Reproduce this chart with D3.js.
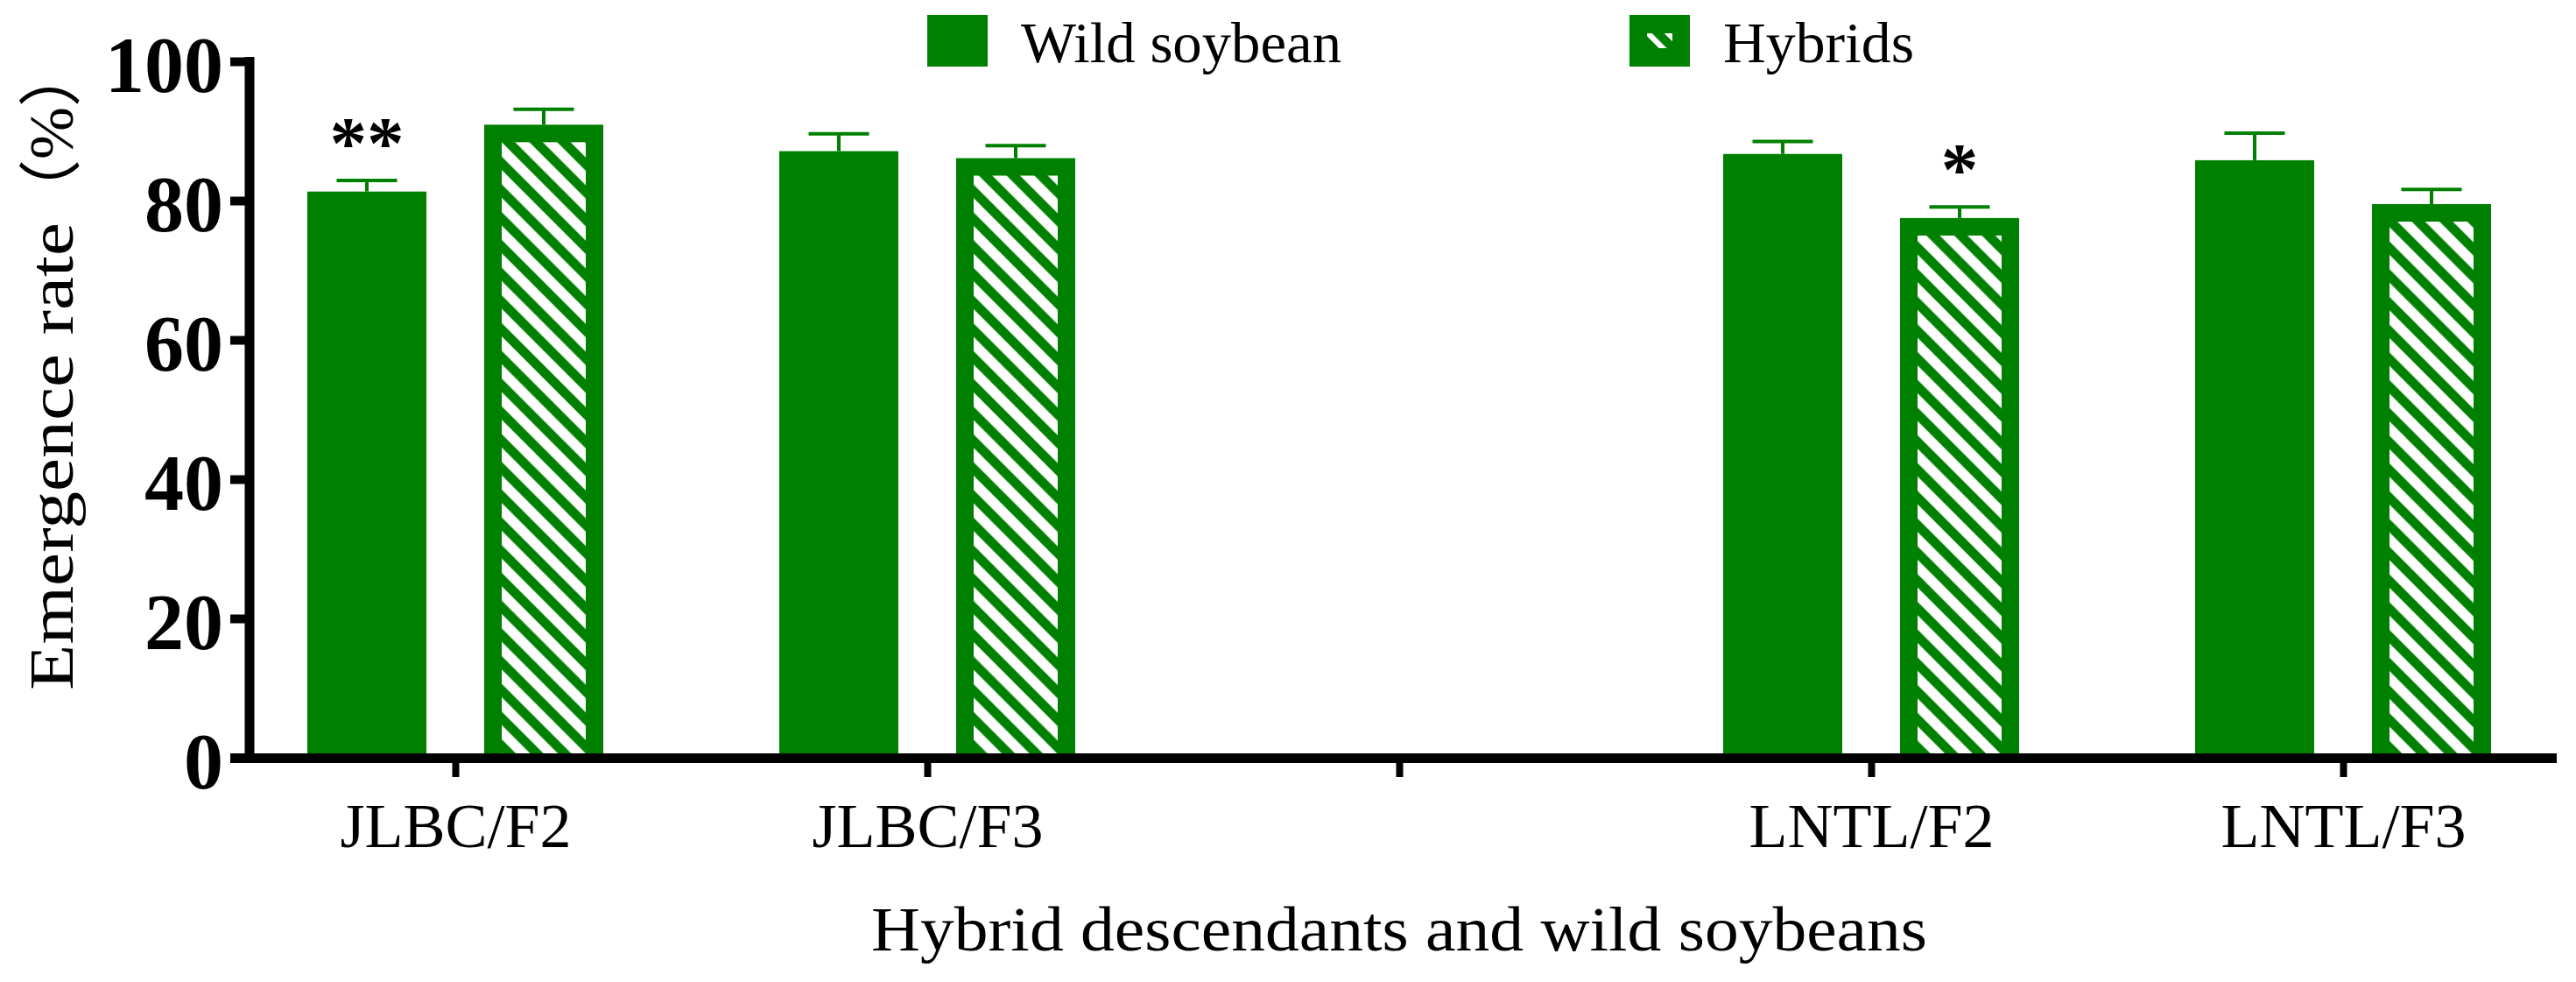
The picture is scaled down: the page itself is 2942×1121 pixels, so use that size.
<!DOCTYPE html>
<html><head><meta charset="utf-8">
<script src="https://cdn.jsdelivr.net/npm/d3@7"></script>
<style>html,body{margin:0;padding:0;background:#fff;} svg{display:block}</style>
</head><body>
<svg id="chart" width="2942" height="1121"></svg>
<script>
// ---- data ----
const categories = ["JLBC/F2", "JLBC/F3", "gap", "LNTL/F2", "LNTL/F3"];
const tickLabels = ["JLBC/F2", "JLBC/F3", "", "LNTL/F2", "LNTL/F3"];
const series = ["Wild soybean", "Hybrids"];
const wildMean = [81.3, 87.1, null, 86.7, 85.8];
const wildErr = [1.6, 2.5, null, 1.8, 3.9];
const hybridMean = [90.9, 86.1, null, 77.5, 79.5];
const hybridErr = [2.2, 1.8, null, 1.6, 2.1];
const wildSig = ["**", "", "", "", ""];
const hybridSig = ["", "", "", "*", ""];
const yTicks = [0, 20, 40, 60, 80, 100];
const yTitle = "Emergence rate";
const yTitleUnit = "（%）";
const xTitle = "Hybrid descendants and wild soybeans";

// ---- layout ----
const GREEN = "#008000";
const SERIF = "'Liberation Serif', 'Times New Roman', serif";
const svg = d3.select("#chart");
const x = d3.scalePoint().domain(categories).range([520, 2676]);
const xs = d3.scalePoint().domain(series).range([-101, 101]);
const y = d3.scaleLinear().domain([0, 100]).range([865, 70]);
const barW = 136, border = 20;

const defs = svg.append("defs");
function hatch(id, p, wy, wh) {
  const pat = defs.append("pattern").attr("id", id)
    .attr("patternUnits", "userSpaceOnUse")
    .attr("width", p).attr("height", p)
    .attr("patternTransform", "rotate(45)");
  pat.append("rect").attr("width", p).attr("height", p).attr("fill", GREEN);
  pat.append("rect").attr("y", wy).attr("width", p).attr("height", wh).attr("fill", "#fff");
}
hatch("hatch", 22.4, 0.8, 11.6);
hatch("hatchLeg", 16.26, 9.9, 7.8);

// build rows
const rows = [];
categories.forEach((c, i) => {
  if (wildMean[i] != null) rows.push({cat: c, s: series[0], m: wildMean[i], e: wildErr[i], sig: wildSig[i]});
  if (hybridMean[i] != null) rows.push({cat: c, s: series[1], m: hybridMean[i], e: hybridErr[i], sig: hybridSig[i]});
});
const cx = d => x(d.cat) + xs(d.s);

// error bars (upper only)
const eb = svg.append("g").attr("stroke", GREEN).attr("stroke-width", 4).attr("fill", "none");
eb.selectAll("line.stem").data(rows).join("line").attr("class", "stem")
  .attr("x1", cx).attr("x2", cx).attr("y1", d => y(d.m)).attr("y2", d => y(d.m + d.e));
eb.selectAll("line.cap").data(rows).join("line").attr("class", "cap")
  .attr("x1", d => cx(d) - 34.5).attr("x2", d => cx(d) + 34.5)
  .attr("y1", d => y(d.m + d.e)).attr("y2", d => y(d.m + d.e));

// bars
const bars = svg.append("g");
bars.selectAll("rect.outer").data(rows).join("rect").attr("class", "outer")
  .attr("x", d => cx(d) - barW / 2).attr("width", barW)
  .attr("y", d => y(d.m)).attr("height", d => y(0) - y(d.m))
  .attr("fill", GREEN);
bars.selectAll("rect.inner").data(rows.filter(d => d.s === series[1])).join("rect").attr("class", "inner")
  .attr("x", d => cx(d) - barW / 2 + border).attr("width", barW - 2 * border)
  .attr("y", d => y(d.m) + border).attr("height", d => y(0) - y(d.m) - border)
  .attr("fill", "url(#hatch)");

// significance stars
svg.append("g").selectAll("text").data(rows.filter(d => d.sig)).join("text")
  .attr("x", cx).attr("y", d => y(d.m + d.e) - 14)
  .attr("text-anchor", "middle").attr("font-family", SERIF).attr("font-weight", "bold")
  .attr("font-size", 85).attr("fill", "#000").text(d => d.sig);

// y axis
const yAxis = svg.append("g").attr("transform", "translate(284.5,0)")
  .call(d3.axisLeft(y).tickValues(yTicks).tickSize(21.5).tickSizeOuter(0).tickPadding(8));
yAxis.select(".domain").attr("stroke", "#000").attr("stroke-width", 11).attr("stroke-linecap", "square");
yAxis.selectAll(".tick line").attr("stroke", "#000").attr("stroke-width", 10);
yAxis.selectAll(".tick text").attr("font-family", SERIF).attr("font-weight", "bold")
  .attr("font-size", 90).attr("fill", "#000").attr("dy", 34).attr("x", -29.5);

// x axis
const xAxis = svg.append("g").attr("transform", "translate(0,865)")
  .call(d3.axisBottom(x).tickSize(22).tickSizeOuter(0).tickFormat((d, i) => tickLabels[i]));
xAxis.select(".domain").remove();
xAxis.selectAll(".tick line").attr("stroke", "#000").attr("stroke-width", 8);
xAxis.selectAll(".tick text").attr("font-family", SERIF).attr("font-size", 72)
  .attr("fill", "#000").attr("y", 102).attr("dy", 0);
svg.append("line").attr("x1", 263).attr("x2", 2920).attr("y1", 865.5).attr("y2", 865.5)
  .attr("stroke", "#000").attr("stroke-width", 11);

// axis titles
svg.append("text").attr("transform", "translate(83,788) rotate(-90)")
  .attr("font-family", SERIF).attr("font-size", 72).attr("fill", "#000")
  .attr("textLength", 534).attr("lengthAdjust", "spacingAndGlyphs").text(yTitle);
svg.append("text").attr("transform", "translate(83,254) rotate(-90)")
  .attr("font-family", SERIF + ", 'Noto Sans CJK SC'").attr("font-size", 72).attr("fill", "#000")
  .text(yTitleUnit);
svg.append("text").attr("x", 1598).attr("y", 1085).attr("text-anchor", "middle")
  .attr("font-family", SERIF).attr("font-size", 71).attr("fill", "#000")
  .attr("textLength", 1206).attr("lengthAdjust", "spacingAndGlyphs").text(xTitle);

// legend
const legX = [1059, 1861];
const legTextX = [1166, 1968];
const legTextLen = [366, 218];
const leg = svg.append("g");
series.forEach((s, i) => {
  leg.append("rect").attr("x", legX[i]).attr("y", 17).attr("width", 69).attr("height", 59).attr("fill", GREEN);
  if (i === 1) leg.append("rect").attr("x", legX[i] + 20).attr("y", 38).attr("width", 29).attr("height", 17)
    .attr("fill", "url(#hatchLeg)");
  leg.append("text").attr("x", legTextX[i]).attr("y", 71)
    .attr("font-family", SERIF).attr("font-size", 65).attr("fill", "#000")
    .attr("textLength", legTextLen[i]).attr("lengthAdjust", "spacingAndGlyphs").text(s);
});
</script>
</body></html>
